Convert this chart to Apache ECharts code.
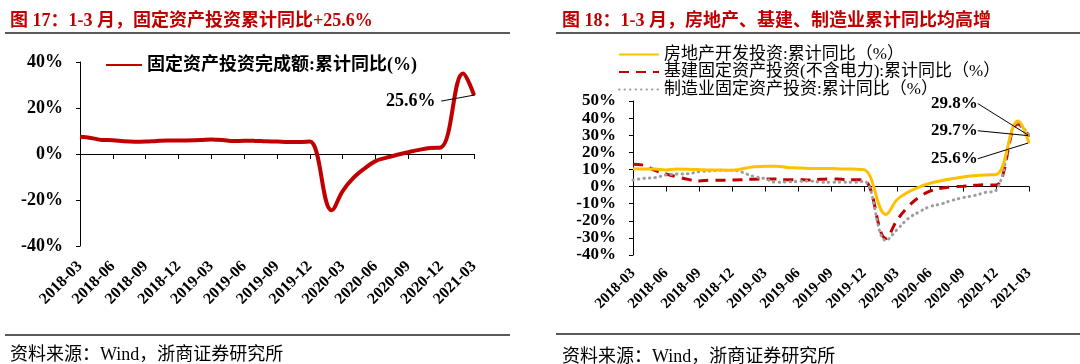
<!DOCTYPE html>
<html>
<head>
<meta charset="utf-8">
<script src="https://cdn.jsdelivr.net/npm/echarts@6/dist/echarts.min.js"></script>
<style>
html,body{margin:0;padding:0;background:#fff;}
#c{width:1080px;height:364px;}
</style>
</head>
<body>
<div id="c"></div>
<script>
// Monthly categories (January has no cumulative value -> null)
const months = [
  '2018-03','2018-04','2018-05','2018-06','2018-07','2018-08','2018-09','2018-10','2018-11','2018-12',
  '2019-01','2019-02','2019-03','2019-04','2019-05','2019-06','2019-07','2019-08','2019-09','2019-10','2019-11','2019-12',
  '2020-01','2020-02','2020-03','2020-04','2020-05','2020-06','2020-07','2020-08','2020-09','2020-10','2020-11','2020-12',
  '2021-01','2021-02','2021-03'
];
// 固定资产投资完成额:累计同比(%)
const fai = [
  7.5, 7.0, 6.1, 6.0, 5.5, 5.3, 5.4, 5.7, 5.9, 5.9,
  null, 6.1, 6.3, 6.1, 5.6, 5.8, 5.7, 5.5, 5.4, 5.2, 5.2, 5.4,
  null, -24.5, -16.1, -10.3, -6.3, -3.1, -1.6, -0.3, 0.8, 1.8, 2.6, 2.9,
  null, 35.0, 25.6
];
// 房地产开发投资:累计同比
const realEstate = [
  10.4, 10.3, 10.2, 9.7, 10.2, 10.1, 9.9, 9.7, 9.7, 9.5,
  null, 11.6, 11.8, 11.9, 11.2, 10.9, 10.6, 10.5, 10.5, 10.3, 10.2, 9.9,
  null, -16.3, -7.7, -3.3, -0.3, 1.9, 3.4, 4.6, 5.6, 6.3, 6.8, 7.0,
  null, 38.3, 25.6
];
// 基建固定资产投资(不含电力):累计同比
const infra = [
  13.0, 12.4, 9.4, 7.3, 5.7, 4.2, 3.3, 3.7, 3.7, 3.8,
  null, 4.3, 4.4, 4.4, 4.0, 4.1, 3.8, 4.2, 4.5, 4.2, 4.0, 3.8,
  null, -30.3, -19.7, -11.8, -6.3, -2.7, -1.0, -0.3, 0.2, 0.7, 1.0, 0.9,
  null, 36.6, 29.7
];
// 制造业固定资产投资:累计同比
const mfg = [
  3.8, 4.8, 5.2, 6.8, 7.3, 7.5, 8.7, 9.1, 9.5, 9.5,
  null, 5.9, 4.6, 2.5, 2.7, 3.0, 3.3, 2.6, 2.5, 2.6, 2.5, 3.1,
  null, -31.5, -25.2, -18.8, -14.8, -11.7, -10.2, -8.1, -6.5, -5.3, -3.5, -2.2,
  null, 37.3, 29.8
];
const names = {
  fai: '固定资产投资完成额:累计同比(%)',
  re: '房地产开发投资:累计同比（%）',
  infra: '基建固定资产投资(不含电力):累计同比（%）',
  mfg: '制造业固定资产投资:累计同比（%）'
};
const titles = ['图 17：1-3 月，固定资产投资累计同比+25.6%', '图 18：1-3 月，房地产、基建、制造业累计同比均高增'];
const sourceText = '资料来源：Wind，浙商证券研究所';

const FONT = '"Liberation Serif", "Noto Sans CJK SC", serif';
const RED = '#C00000';
const last = months.length - 1;

function lastLabeled(arr, fmt) {
  return arr.map((v, i) => i === arr.length - 1
    ? { value: v, symbolSize: 2, label: { show: true, formatter: fmt } } : v);
}

function labelAxis(gridIndex, fontSize, margin) {
  return {
    type: 'category', gridIndex, data: months, boundaryGap: false, position: 'bottom',
    axisLine: { show: false, onZero: false }, axisTick: { show: false },
    axisLabel: { interval: 2, rotate: 45, margin, fontFamily: FONT, fontWeight: 'bold', fontSize, color: '#000' }
  };
}
function zeroAxis(gridIndex) {
  return {
    type: 'category', gridIndex, data: months, boundaryGap: false, position: 'bottom',
    axisLine: { show: true, onZero: true, lineStyle: { color: '#000', width: 1 } },
    axisTick: { show: true, interval: 2, length: 5, lineStyle: { color: '#000' } },
    axisLabel: { show: false }
  };
}
function valAxis(gridIndex, min, max, interval, fontSize, margin) {
  return {
    type: 'value', gridIndex, min, max, interval,
    axisLine: { show: true, lineStyle: { color: '#000', width: 1 } },
    axisTick: { show: true, length: 4, lineStyle: { color: '#000' } },
    splitLine: { show: false },
    axisLabel: { formatter: '{value}%', fontFamily: FONT, fontWeight: 'bold', fontSize, color: '#000', margin }
  };
}

const annLabel = (fs) => ({
  position: 'right', distance: 5, padding: [0, 8, 0, 0],
  fontFamily: FONT, fontWeight: 'bold', fontSize: fs, color: '#000'
});
const annLine = { show: true, lineStyle: { color: '#000', width: 1 } };
const lineCommon = {
  type: 'line', connectNulls: true, smooth: 0.4, clip: false,
  symbol: 'circle', symbolSize: 0, showSymbol: true, showAllSymbol: true
};

const option = {
  animation: false,
  backgroundColor: '#fff',
  title: [
    { text: titles[0], left: 5, top: 7, textStyle: { fontFamily: FONT, fontWeight: 'bold', fontSize: 18, color: RED } },
    { text: titles[1], left: 557, top: 7, textStyle: { fontFamily: FONT, fontWeight: 'bold', fontSize: 18, color: RED } },
    { text: sourceText, left: 5, top: 341, textStyle: { fontFamily: FONT, fontWeight: 'normal', fontSize: 18, color: '#000' } },
    { text: sourceText, left: 557, top: 343, textStyle: { fontFamily: FONT, fontWeight: 'normal', fontSize: 18, color: '#000' } }
  ],
  graphic: [
    { type: 'line', shape: { x1: 5, y1: 33, x2: 510, y2: 33 }, style: { stroke: '#222', lineWidth: 1.5 } },
    { type: 'line', shape: { x1: 5, y1: 335, x2: 510, y2: 335 }, style: { stroke: '#222', lineWidth: 1.5 } },
    { type: 'line', shape: { x1: 556, y1: 33, x2: 1080, y2: 33 }, style: { stroke: '#222', lineWidth: 1.5 } },
    { type: 'line', shape: { x1: 556, y1: 334, x2: 1080, y2: 334 }, style: { stroke: '#222', lineWidth: 1.5 } }
  ],
  legend: [
    {
      data: [names.fai], left: 100, top: 51, itemWidth: 36, itemHeight: 18, itemGap: 0,
      itemStyle: { opacity: 0 },
      textStyle: { fontFamily: FONT, fontWeight: 'bold', fontSize: 18, color: '#000' }
    },
    {
      data: [names.re, names.infra, names.mfg], orient: 'vertical', left: 613, top: 41,
      itemWidth: 40, itemHeight: 10, itemGap: 0.5,
      itemStyle: { opacity: 0 },
      textStyle: { fontFamily: FONT, fontSize: 17, color: '#000', lineHeight: 17 }
    }
  ],
  grid: [
    { left: 80, width: 394, top: 62, height: 184, containLabel: false },
    { left: 633, width: 396, top: 101, height: 154, containLabel: false }
  ],
  xAxis: [labelAxis(0, 16, 18), zeroAxis(0), labelAxis(1, 15, 16), zeroAxis(1)],
  yAxis: [valAxis(0, -40, 40, 20, 18, 17), valAxis(1, -40, 50, 10, 17, 17)],
  series: [
    Object.assign({}, lineCommon, {
      name: names.infra, xAxisIndex: 2, yAxisIndex: 1,
      data: lastLabeled(infra, '29.7%'),
      lineStyle: { color: RED, width: 3, type: [10, 7] }, itemStyle: { color: RED },
      label: annLabel(17), labelLayout: { dx: -104, dy: -5 }, labelLine: annLine
    }),
    Object.assign({}, lineCommon, {
      name: names.mfg, xAxisIndex: 2, yAxisIndex: 1,
      data: lastLabeled(mfg, '29.8%'),
      lineStyle: { color: '#9E9E9E', width: 3, type: [0.5, 5], cap: 'round' }, itemStyle: { color: '#9E9E9E' },
      label: annLabel(17), labelLayout: { dx: -104, dy: -32 }, labelLine: annLine
    }),
    Object.assign({}, lineCommon, {
      name: names.re, xAxisIndex: 2, yAxisIndex: 1,
      data: lastLabeled(realEstate, '25.6%'),
      lineStyle: { color: '#FFC000', width: 3 }, itemStyle: { color: '#FFC000' },
      label: annLabel(17), labelLayout: { dx: -104, dy: 16 }, labelLine: annLine
    }),
    Object.assign({}, lineCommon, {
      name: names.fai, xAxisIndex: 0, yAxisIndex: 0,
      data: lastLabeled(fai, '25.6%'),
      lineStyle: { color: RED, width: 4 }, itemStyle: { color: RED },
      label: annLabel(18), labelLayout: { dx: -94, dy: 6 }, labelLine: { show: false },
      markLine: {
        silent: true, animation: false, symbol: ['none', 'none'],
        label: { show: false },
        lineStyle: { color: '#000', width: 1, type: 'solid' },
        data: [[{ coord: [months[last], fai[last]] }, { coord: [months[last - 3], 23] }]]
      }
    })
  ]
};
const chart = echarts.init(document.getElementById('c'), null, { renderer: 'canvas' });
chart.setOption(option);
</script>
</body>
</html>
